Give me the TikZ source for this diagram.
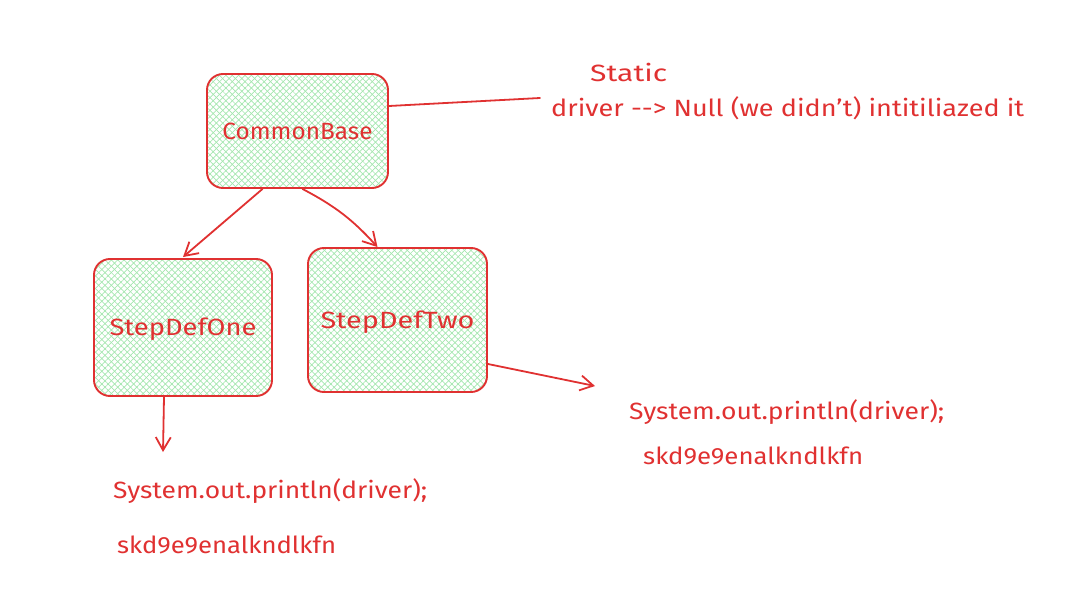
\documentclass[tikz,border=0pt]{standalone}
\usepackage{fontspec}
\setmainfont{Fira Sans}
\usetikzlibrary{arrows.meta,patterns.meta}
\definecolor{exred}{HTML}{E03131}
\definecolor{exgreen}{HTML}{A3E6AE}
\newcommand\fitw[2]{\resizebox{#1}{\height}{#2}}
\tikzset{
  box/.style={draw=exred, line width=1.9pt, rounded corners=16pt,
    preaction={pattern={Lines[angle=45,distance=4.5pt,line width=0.7pt]}, pattern color=exgreen},
    preaction={pattern={Lines[angle=-45,distance=4.5pt,line width=0.7pt]}, pattern color=exgreen},
    text=exred, font=\fontsize{23.5pt}{26pt}\selectfont, inner sep=0pt,
    text height=16pt, text depth=0pt},
  conn/.style={draw=exred, line width=1.8pt, line cap=round},
  arr/.style={conn, -{Straight Barb[length=13pt,width=15pt,line width=1.8pt]}},
  lbl/.style={text=exred, font=\fontsize{23.5pt}{26pt}\selectfont, inner sep=0pt, anchor=base west},
}
\begin{document}
\begin{tikzpicture}[x=1pt,y=-1pt]
\useasboundingbox (0,0) rectangle (1066,594);
\node[box, minimum width=181pt, minimum height=114pt] (cb) at (297.5,131) {\fitw{150pt}{CommonBase}};
\node[box, minimum width=178pt, minimum height=137pt] (s1) at (183,327.5) {\fitw{147pt}{StepDefOne}};
\node[box, minimum width=179pt, minimum height=144pt] (s2) at (397.5,320) {\fitw{154pt}{StepDefTwo}};

\node[lbl] (st) at (590,82) {\fitw{77pt}{Static}};
\node[lbl] (dr) at (551,117) {\fitw{473pt}{driver -{}-> Null (we didn't) intitiliazed it}};
\node[lbl] (p2) at (629,419) {\fitw{315pt}{System.out.println(driver);}};
\node[lbl] (k2) at (643,464) {\fitw{220pt}{skd9e9enalkndlkfn}};
\node[lbl] (p1) at (113,498) {\fitw{314pt}{System.out.println(driver);}};
\node[lbl] (k1) at (117,553) {\fitw{219pt}{skd9e9enalkndlkfn}};

\coordinate (lend) at (540,98);
\coordinate (a1) at (163,452);
\coordinate (a2) at (595,386);

\draw[conn] ([yshift=25pt]cb.east) -- (lend);
\draw[arr] ([xshift=-35pt]cb.south) -- ([yshift=1pt]s1.north);
\draw[arr] ([xshift=5pt]cb.south) to[bend left=10] ([xshift=-20pt]s2.north);
\draw[arr] ([xshift=-19pt]s1.south) -- (a1);
\draw[arr] ([yshift=-44pt]s2.east) -- (a2);
\end{tikzpicture}
\end{document}
